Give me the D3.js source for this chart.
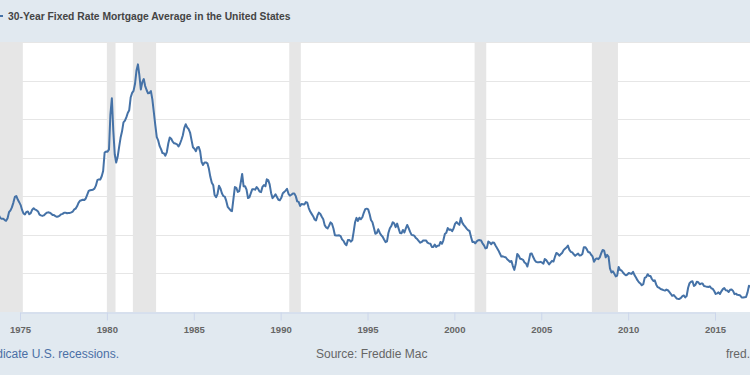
<!DOCTYPE html>
<html>
<head>
<meta charset="utf-8">
<script src="https://cdn.jsdelivr.net/npm/d3@7"></script>
<style>
  html, body { margin: 0; padding: 0; background: #e1e9f0; }
  svg { display: block; font-family: "Liberation Sans", Arial, sans-serif; }
</style>
</head>
<body>
<div id="chart"></div>
<script>
// monthly averages, 30-year fixed rate mortgage (%)
const firstYear = 1973;
const rates1970s = [
  7.44, 7.44, 7.46, 7.54, 7.65, 7.73, 8.05, 8.50, 8.82, 8.77, 8.58, 8.54,
  8.54, 8.46, 8.41, 8.58, 8.97, 9.09, 9.28, 9.59, 9.96, 10.02, 9.79, 9.62,
  9.43, 9.10, 8.89, 8.82, 8.99, 9.01, 8.84, 8.91, 9.13, 9.22, 9.14, 9.10,
  9.02, 8.81, 8.76, 8.73, 8.76, 8.85, 8.93, 8.96, 8.94, 8.88, 8.79, 8.78,
  8.72, 8.67, 8.69, 8.75, 8.83, 8.86, 8.94, 8.94, 8.90, 8.92, 8.92, 8.96,
  9.01, 9.15, 9.20, 9.35, 9.57, 9.71, 9.74, 9.78, 9.76, 9.86, 10.11, 10.35,
  10.39, 10.41, 10.43, 10.50, 10.69, 11.04, 11.09, 11.09, 11.30, 11.64, 12.83, 12.90
];
const rates1980s = [
  12.88, 13.04, 15.28, 16.35, 14.26, 12.71, 12.19, 12.56, 13.20, 13.79, 14.21, 14.79,
  14.90, 15.13, 15.40, 15.58, 16.40, 16.70, 16.83, 17.29, 18.16, 18.55, 17.83, 16.92,
  17.40, 17.60, 17.16, 16.89, 16.68, 16.70, 16.82, 16.27, 15.43, 14.61, 13.83, 13.62,
  13.25, 13.04, 12.80, 12.78, 12.63, 12.87, 13.42, 13.81, 13.73, 13.54, 13.44, 13.42,
  13.37, 13.23, 13.39, 13.65, 13.94, 14.42, 14.67, 14.47, 14.35, 14.13, 13.64, 13.18,
  13.08, 12.92, 13.17, 13.20, 12.91, 12.22, 12.03, 12.19, 12.19, 12.14, 11.78, 11.26,
  10.88, 10.71, 10.08, 9.94, 10.14, 10.68, 10.51, 10.20, 10.01, 9.98, 9.70, 9.32,
  9.20, 9.08, 9.04, 9.83, 10.60, 10.54, 10.28, 10.33, 10.89, 11.45, 10.65, 10.65,
  10.43, 9.89, 9.93, 10.20, 10.46, 10.46, 10.43, 10.60, 10.48, 10.30, 10.27, 10.61,
  10.73, 10.65, 11.10, 11.05, 10.77, 10.20, 9.88, 9.99, 10.13, 9.95, 9.77, 9.74
];
const rates1990s = [
  9.90, 10.20, 10.27, 10.37, 10.48, 10.16, 10.04, 10.10, 10.18, 10.18, 10.01, 9.67,
  9.64, 9.37, 9.50, 9.49, 9.47, 9.62, 9.58, 9.24, 9.01, 8.86, 8.71, 8.50,
  8.43, 8.76, 8.94, 8.85, 8.67, 8.51, 8.13, 7.98, 7.92, 8.09, 8.31, 8.22,
  7.91, 7.47, 7.46, 7.46, 7.47, 7.42, 7.21, 7.11, 6.92, 6.83, 7.16, 7.17,
  7.06, 7.15, 7.68, 8.32, 8.60, 8.40, 8.61, 8.51, 8.64, 8.93, 9.17, 9.20,
  9.15, 8.83, 8.46, 8.32, 7.96, 7.57, 7.61, 7.86, 7.64, 7.48, 7.38, 7.20,
  7.03, 7.08, 7.62, 7.93, 8.07, 8.32, 8.25, 8.00, 8.23, 7.92, 7.62, 7.60,
  7.82, 7.65, 7.90, 8.14, 7.94, 7.69, 7.50, 7.48, 7.43, 7.29, 7.21, 7.10,
  6.99, 7.04, 7.13, 7.14, 7.14, 7.00, 6.95, 6.92, 6.72, 6.71, 6.87, 6.72,
  6.79, 6.81, 7.04, 6.92, 7.15, 7.55, 7.63, 7.94, 7.82, 7.85, 7.74, 7.91
];
const rates2000s = [
  8.21, 8.33, 8.24, 8.15, 8.60, 8.29, 8.15, 8.03, 7.91, 7.80, 7.75, 7.38,
  7.03, 7.05, 6.95, 7.08, 7.15, 7.16, 7.13, 6.95, 6.82, 6.62, 6.66, 7.07,
  7.00, 6.89, 7.01, 6.99, 6.81, 6.65, 6.49, 6.29, 6.09, 6.11, 6.07, 6.05,
  5.92, 5.84, 5.75, 5.81, 5.48, 5.23, 5.63, 6.26, 6.15, 5.95, 5.93, 5.88,
  5.71, 5.64, 5.45, 5.83, 6.27, 6.29, 6.06, 5.87, 5.75, 5.72, 5.73, 5.75,
  5.71, 5.63, 5.93, 5.86, 5.72, 5.58, 5.70, 5.82, 5.77, 6.07, 6.33, 6.27,
  6.15, 6.25, 6.32, 6.51, 6.60, 6.68, 6.80, 6.52, 6.40, 6.36, 6.24, 6.14,
  6.22, 6.29, 6.16, 6.18, 6.26, 6.70, 6.70, 6.57, 6.38, 6.38, 6.21, 6.10,
  5.76, 5.92, 5.97, 5.92, 6.04, 6.32, 6.52, 6.48, 6.04, 6.20, 6.09, 5.33,
  5.06, 5.13, 5.00, 4.81, 4.86, 5.42, 5.22, 5.19, 5.06, 4.95, 4.88, 4.93
];
const rates2010s = [
  5.03, 4.99, 4.97, 5.10, 4.89, 4.74, 4.56, 4.43, 4.35, 4.23, 4.30, 4.71,
  4.76, 4.95, 4.84, 4.84, 4.64, 4.51, 4.55, 4.27, 4.11, 4.07, 3.99, 3.96,
  3.92, 3.89, 3.95, 3.91, 3.80, 3.68, 3.55, 3.60, 3.50, 3.38, 3.35, 3.35,
  3.41, 3.53, 3.57, 3.45, 3.54, 4.07, 4.37, 4.46, 4.49, 4.19, 4.26, 4.46,
  4.43, 4.30, 4.34, 4.34, 4.19, 4.16, 4.13, 4.12, 4.16, 4.04, 4.00, 3.86,
  3.67, 3.71, 3.77, 3.67, 3.84, 3.98, 4.05, 3.91, 3.89, 3.80, 3.94, 3.96,
  3.87, 3.66, 3.69, 3.61, 3.60, 3.57, 3.44, 3.44, 3.46, 3.47, 3.77, 4.20,
  4.15
];

const recessionStarts = ["1973-11", "1980-01", "1981-07", "1990-07", "2001-03", "2007-12"];
const recessionEnds   = ["1975-03", "1980-07", "1982-11", "1991-03", "2001-11", "2009-06"];
const tickYears = [1975, 1980, 1985, 1990, 1995, 2000, 2005, 2010, 2015];
const yTicks = [2.5, 5, 7.5, 10, 12.5, 15, 17.5, 20];

const title = "30-Year Fixed Rate Mortgage Average in the United States";
const noteText = "Shaded areas indicate U.S. recessions.";
const sourceText = "Source: Freddie Mac";
const siteText = "fred.stlouisfed.org";

const width = 750, height = 375;
const plotTop = 42, plotBottom = 312;

const rates = [].concat(rates1970s, rates1980s, rates1990s, rates2000s, rates2010s);
const data = rates.map((v, i) => ({ date: new Date(firstYear, i, 15), value: v }));
const parseMonth = d3.timeParse("%Y-%m");
const recessions = recessionStarts.map((s, i) => ({ start: parseMonth(s), end: parseMonth(recessionEnds[i]) }));

// the picture is cropped: 1975 sits at x=20 and 2015 at x=715
const x = d3.scaleTime()
    .domain([new Date(1975, 0, 1), new Date(2015, 0, 1)])
    .range([20, 715]);
const y = d3.scaleLinear()
    .domain([2.5, 20])
    .range([plotBottom, plotTop]);

const svg = d3.select("#chart")
    .append("svg")
    .attr("width", width)
    .attr("height", height);

svg.append("rect")
    .attr("width", width)
    .attr("height", height)
    .attr("fill", "#e1e9f0");

// plot area
svg.append("rect")
    .attr("x", x(new Date(1971, 0, 1)))
    .attr("y", plotTop)
    .attr("width", x(new Date(2018, 0, 1)) - x(new Date(1971, 0, 1)))
    .attr("height", plotBottom - plotTop)
    .attr("fill", "#ffffff");

// recession bands
svg.append("g")
    .selectAll("rect")
    .data(recessions)
    .enter()
    .append("rect")
    .attr("x", d => x(d.start))
    .attr("y", plotTop)
    .attr("width", d => x(d.end) - x(d.start))
    .attr("height", plotBottom - plotTop)
    .attr("fill", "#e6e6e6");

// gridlines
svg.append("g")
    .selectAll("line")
    .data(yTicks.slice(1))
    .enter()
    .append("line")
    .attr("x1", 0)
    .attr("x2", width)
    .attr("y1", d => Math.round(y(d)) + 0.5)
    .attr("y2", d => Math.round(y(d)) + 0.5)
    .attr("stroke", "#e6e6e6")
    .attr("stroke-width", 1);

// x axis
const xAxis = svg.append("g")
    .attr("transform", "translate(0," + (plotBottom + 0.5) + ")")
    .call(d3.axisBottom(x)
        .tickValues(tickYears.map(yr => new Date(yr, 0, 1)))
        .tickFormat(d3.timeFormat("%Y"))
        .tickSize(8)
        .tickPadding(6));
xAxis.select(".domain").attr("stroke", "#ccd6eb");
xAxis.selectAll(".tick line").attr("stroke", "#ccd6eb");
xAxis.selectAll(".tick text")
    .attr("fill", "#666666")
    .attr("font-size", "9.5px")
    .attr("font-weight", "bold")
    .attr("font-family", "Liberation Sans, Arial, sans-serif");

// the series
const line = d3.line()
    .x(d => x(d.date))
    .y(d => y(d.value));

svg.append("path")
    .datum(data)
    .attr("d", line)
    .attr("fill", "none")
    .attr("stroke", "#4572a7")
    .attr("stroke-width", 2)
    .attr("stroke-linejoin", "round");

// legend / title
svg.append("line")
    .attr("x1", -10).attr("x2", 3)
    .attr("y1", 16).attr("y2", 16)
    .attr("stroke", "#4572a7")
    .attr("stroke-width", 2);

svg.append("text")
    .attr("x", 8)
    .attr("y", 20)
    .attr("fill", "#444444")
    .attr("font-size", "10.3px")
    .attr("font-weight", "bold")
    .text(title);

// footer
svg.append("text")
    .attr("x", 119)
    .attr("y", 358)
    .attr("text-anchor", "end")
    .attr("fill", "#4a6fa5")
    .attr("font-size", "12px")
    .text(noteText);

svg.append("text")
    .attr("x", 316)
    .attr("y", 358)
    .attr("fill", "#666666")
    .attr("font-size", "12px")
    .text(sourceText);

svg.append("text")
    .attr("x", 726)
    .attr("y", 358)
    .attr("fill", "#666666")
    .attr("font-size", "12px")
    .text(siteText);
</script>
</body>
</html>
